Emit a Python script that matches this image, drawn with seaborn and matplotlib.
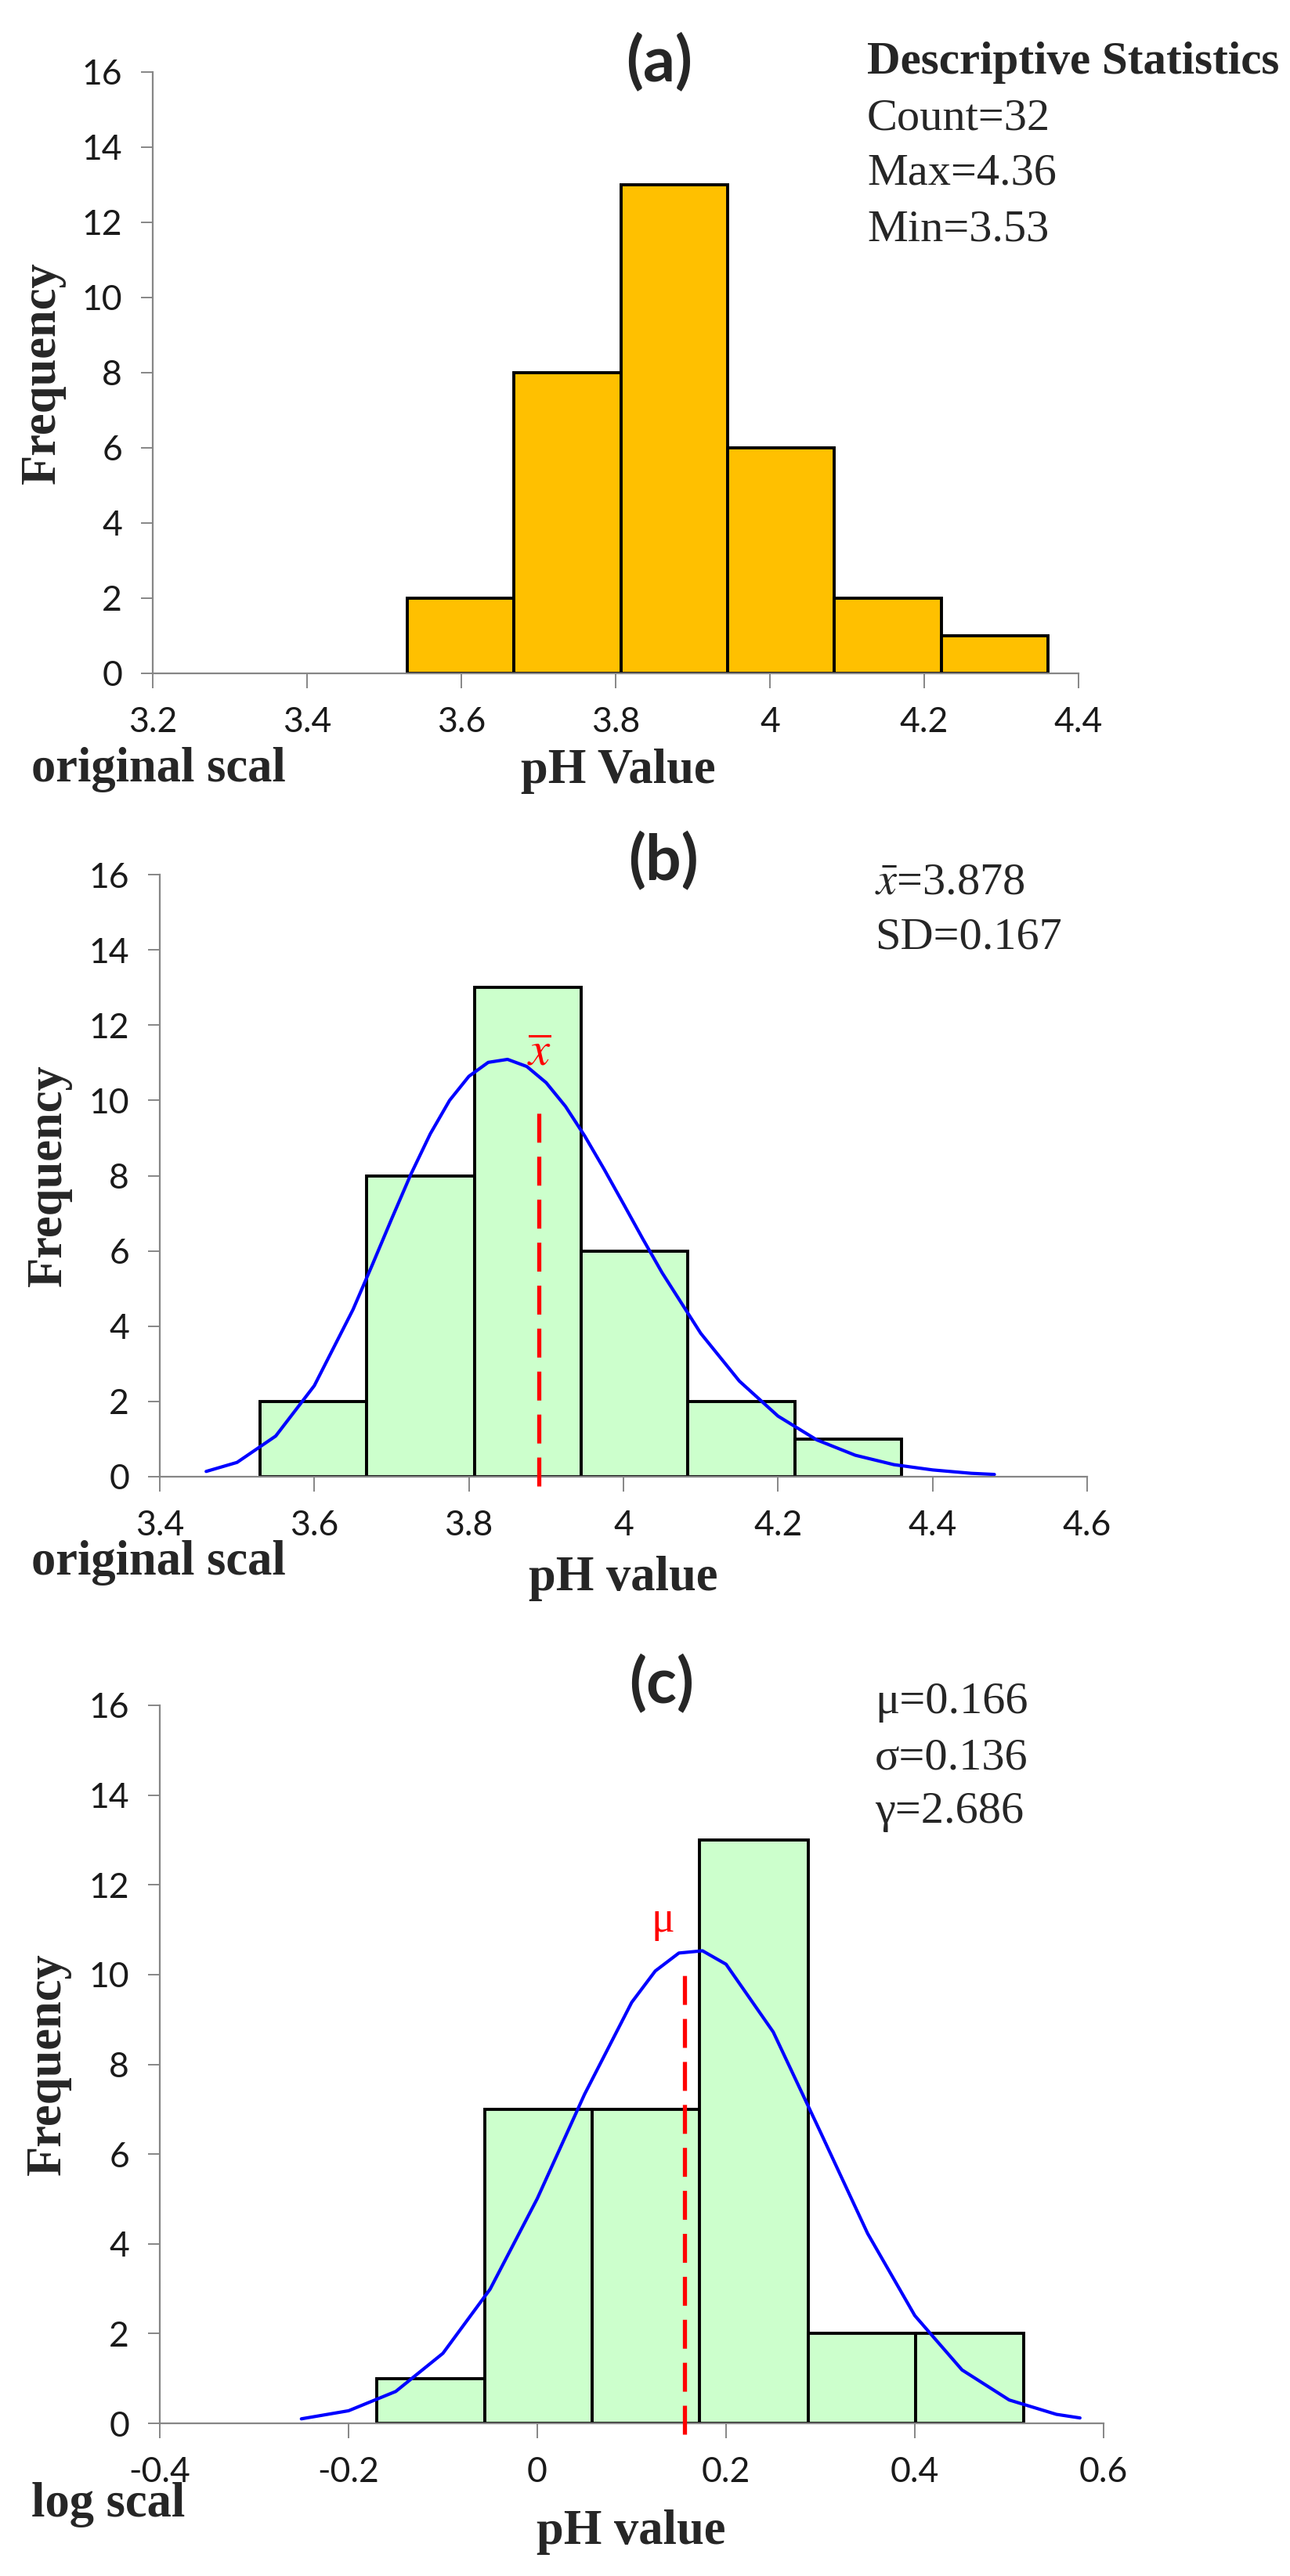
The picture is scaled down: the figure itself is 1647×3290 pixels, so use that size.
import matplotlib
matplotlib.use("Agg")
import matplotlib.pyplot as plt
import seaborn as sns

# ---- data ----
ph_edges = [3.530, 3.668, 3.807, 3.945, 4.083, 4.222, 4.360]
ph_counts = [2, 8, 13, 6, 2, 1]

log_edges = [-0.170, -0.056, 0.058, 0.172, 0.287, 0.401, 0.515]
log_counts = [1, 7, 7, 13, 2, 2]

# fitted curve in (b)
fit_b_x = [3.46, 3.50, 3.55, 3.60, 3.65, 3.675, 3.70, 3.725, 3.75, 3.775, 3.80, 3.825,
           3.85, 3.875, 3.90, 3.925, 3.95, 3.975, 4.00, 4.025, 4.05, 4.10, 4.15, 4.20,
           4.25, 4.30, 4.35, 4.40, 4.45, 4.48]
fit_b_y = [0.14, 0.38, 1.08, 2.42, 4.44, 5.63, 6.85, 8.04, 9.11, 10.00, 10.64, 11.01,
           11.09, 10.90, 10.47, 9.84, 9.05, 8.17, 7.25, 6.32, 5.42, 3.81, 2.54, 1.61,
           0.98, 0.57, 0.32, 0.18, 0.09, 0.06]

# fitted curve in (c)
fit_c_x = [-0.25, -0.20, -0.15, -0.10, -0.05, 0.00, 0.05, 0.10, 0.125, 0.15, 0.175,
           0.20, 0.25, 0.30, 0.35, 0.40, 0.45, 0.50, 0.55, 0.575]
fit_c_y = [0.10, 0.28, 0.71, 1.56, 2.99, 5.01, 7.33, 9.38, 10.08, 10.48, 10.53,
           10.23, 8.72, 6.49, 4.23, 2.40, 1.19, 0.52, 0.20, 0.12]

mean_b = 3.891      # dashed marker in (b)
mean_b_top = 9.8
mean_c = 0.156      # dashed marker in (c)
mean_c_top = 10.1

ticks_a = [3.2, 3.4, 3.6, 3.8, 4.0, 4.2, 4.4]
ticklabels_a = ['3.2', '3.4', '3.6', '3.8', '4', '4.2', '4.4']
ticks_b = [3.4, 3.6, 3.8, 4.0, 4.2, 4.4, 4.6]
ticklabels_b = ['3.4', '3.6', '3.8', '4', '4.2', '4.4', '4.6']
ticks_c = [-0.4, -0.2, 0.0, 0.2, 0.4, 0.6]
ticklabels_c = ['-0.4', '-0.2', '0', '0.2', '0.4', '0.6']
yticks = [0, 2, 4, 6, 8, 10, 12, 14, 16]

stats_a = ['Count=32', 'Max=4.36', 'Min=3.53']
stats_b = [r'$\bar{x}$=3.878', 'SD=0.167']
stats_c = ['\u03bc=0.166', '\u03c3=0.136', '\u03b3=2.686']

# ---- styling ----
sns.set_style('white')
plt.rcParams['font.family'] = ['Lato', 'DejaVu Sans']
plt.rcParams['mathtext.fontset'] = 'stix'

W, H = 1647, 3290
GOLD = '#FFC000'
GREEN = '#CCFFCC'
AXIS_GRAY = '#868686'
SERIF = ['Liberation Serif', 'DejaVu Serif']

fig = plt.figure(figsize=(W / 100, H / 100), dpi=100)


def px(x, y):
    return x / W, 1 - y / H


def box(left, top, right, bottom):
    return [left / W, 1 - bottom / H, (right - left) / W, (bottom - top) / H]


def histPanel(ax, edges, counts, color, xlim, ticks, ticklabels):
    centers = [(edges[i] + edges[i + 1]) / 2 for i in range(len(counts))]
    sns.histplot(x=centers, weights=counts, bins=edges, ax=ax, color=color,
                 edgecolor='black', linewidth=2.8, alpha=1)
    ax.set_xlim(*xlim)
    ax.set_ylim(0, 16)
    ax.set_xticks(ticks)
    ax.set_xticklabels(ticklabels)
    ax.set_yticks(yticks)
    ax.set_xlabel('')
    ax.set_ylabel('')
    sns.despine(ax=ax)
    for side in ['left', 'bottom']:
        ax.spines[side].set_color(AXIS_GRAY)
        ax.spines[side].set_linewidth(1.6)
    ax.tick_params(axis='x', direction='out', length=14, width=1.4, color=AXIS_GRAY,
                   labelsize=32, labelcolor='#1a1a1a', pad=16, bottom=True)
    ax.tick_params(axis='y', direction='out', length=11, width=1.4, color=AXIS_GRAY,
                   labelsize=32, labelcolor='#1a1a1a', pad=17, left=True)
    ax.patch.set_alpha(0)


def panelText(title, title_xy, lines, lines_left, lines_y, xlabel, xlabel_xy,
              scale_label, scale_y, freq_xy, header=None):
    fig.text(*px(*title_xy), title, fontsize=58, fontweight='bold',
             ha='center', va='center')
    if header is not None:
        fig.text(*px(lines_left, header[1]), header[0], fontsize=42.5, fontweight='bold',
                 family=SERIF, ha='left', va='center')
    for txt, y in zip(lines, lines_y):
        fig.text(*px(lines_left, y), txt, fontsize=42, family=SERIF,
                 ha='left', va='center')
    fig.text(*px(*xlabel_xy), xlabel, fontsize=45, fontweight='bold', family=SERIF,
             ha='center', va='center')
    fig.text(*px(40, scale_y), scale_label, fontsize=45, fontweight='bold', family=SERIF,
             ha='left', va='center')
    fig.text(*px(*freq_xy), 'Frequency', fontsize=45, fontweight='bold', family=SERIF,
             rotation=90, ha='center', va='center')


# (a) original scale histogram
ax_a = fig.add_axes(box(195, 92, 1377, 860))
histPanel(ax_a, ph_edges, ph_counts, GOLD, (3.2, 4.4), ticks_a, ticklabels_a)
panelText('(a)', (842, 80), stats_a, 1107, [152, 221, 293], 'pH Value', (789, 985),
          'original scal', 983, (55, 476), header=('Descriptive Statistics', 80))

# (b) original scale with fitted curve
ax_b = fig.add_axes(box(204, 1117, 1388, 1886))
histPanel(ax_b, ph_edges, ph_counts, GREEN, (3.4, 4.6), ticks_b, ticklabels_b)
sns.lineplot(x=fit_b_x, y=fit_b_y, ax=ax_b, color='#0000FF', linewidth=3.0)
ax_b.vlines(mean_b, -0.25, mean_b_top, colors='#FF0000', linewidth=3.8,
            linestyles=(0, (7, 3.4)), clip_on=False, zorder=5)
ax_b.text(mean_b, 11.3, r'$\overline{x}$', color='#FF0000', fontsize=44,
          ha='center', va='center')
panelText('(b)', (847, 1100), stats_b, 1117, [1127, 1198], 'pH value', (796, 2016),
          'original scal', 1996, (63, 1501))

# (c) log scale with fitted curve
ax_c = fig.add_axes(box(204, 2178, 1409, 3095))
histPanel(ax_c, log_edges, log_counts, GREEN, (-0.4, 0.6), ticks_c, ticklabels_c)
sns.lineplot(x=fit_c_x, y=fit_c_y, ax=ax_c, color='#0000FF', linewidth=3.0)
ax_c.vlines(mean_c, -0.25, mean_c_top, colors='#FF0000', linewidth=3.8,
            linestyles=(0, (7, 3.4)), clip_on=False, zorder=5)
ax_c.text(0.133, 11.2, '\u03bc', color='#FF0000', fontsize=40, family=SERIF,
          ha='center', va='center')
panelText('(c)', (845, 2151), stats_c, 1117, [2174, 2246, 2314], 'pH value', (806, 3234),
          'log scal', 3199, (62, 2636))

fig.savefig('out.png', dpi=100)
